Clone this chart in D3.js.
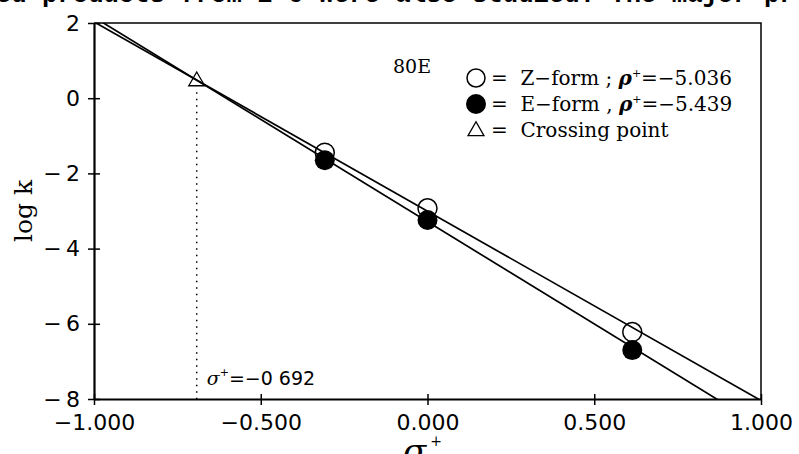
<!doctype html>
<html>
<head>
<meta charset="utf-8">
<script src="https://d3js.org/d3.v7.min.js"></script>
<style>
  body { margin: 0; background: #fff; }
  svg { display: block; }
  .tick text { font-family: "DejaVu Sans", sans-serif; }
</style>
</head>
<body>
<svg width="799" height="454"></svg>
<script>
// data
var sigmaZ = [-0.308, 0.000, 0.614];
var logkZ = [-1.45, -2.93, -6.22];
var sigmaE = [-0.308, 0.000, 0.614];
var logkE = [-1.65, -3.24, -6.70];
// fitted lines: slope (rho+) and log k at sigma+ = 0
var rho = [-5.036, -5.439];
var intercept = [-3.005, -3.284];
var crossX = -0.692, crossY = 0.48;
var xTicks = [-1, -0.5, 0, 0.5, 1];
var yTicks = [2, 0, -2, -4, -6, -8];

function draw() {
    var svg = d3.select("svg");
    var pl = 94, pr = 761, pt = 23, pb = 399;

    var x = d3.scaleLinear().domain([-1, 1]).range([pl, pr]);
    var y = d3.scaleLinear().domain([-8, 2]).range([pb, pt]);

    // stray line of text from the page above
    svg.append("text")
       .attr("x", -4).attr("y", 2)
       .attr("font-family", "Liberation Mono, monospace")
       .attr("font-weight", "bold")
       .attr("font-size", "25.6px")
       .text("ed products from 1-6 were also studied. The major pr");

    svg.append("defs").append("clipPath").attr("id", "plot")
       .append("rect")
       .attr("x", pl).attr("y", pt)
       .attr("width", pr - pl).attr("height", pb - pt);

    // frame
    svg.append("path")
       .attr("d", "M" + pl + "," + pt + "H" + pr + "V" + pb)
       .attr("fill", "none").attr("stroke", "#000").attr("stroke-width", 1.5);

    var xAxis = svg.append("g")
       .attr("transform", "translate(0," + pb + ")")
       .call(d3.axisBottom(x).tickValues(xTicks).tickSize(0).tickPadding(15)
             .tickFormat(function(d) { return d3.format(".3f")(d).replace("-", "\u2212"); }));
    xAxis.select(".domain").attr("stroke-width", 2.2);
    xAxis.selectAll(".tick text").attr("font-size", "22px").attr("fill", "#000");
    xAxis.selectAll(".tick").append("line")
       .attr("y1", -5).attr("y2", 6).attr("stroke", "#000").attr("stroke-width", 1.5);

    var yAxis = svg.append("g")
       .attr("transform", "translate(" + pl + ",0)")
       .call(d3.axisLeft(y).tickValues(yTicks).tickSize(0).tickPadding(14)
             .tickFormat(function(d) { return d < 0 ? "\u2212\u2009" + (-d) : "" + d; }));
    yAxis.select(".domain").attr("stroke-width", 2.2);
    yAxis.selectAll(".tick text").attr("font-size", "22px").attr("fill", "#000");
    yAxis.selectAll(".tick").append("line")
       .attr("x1", -6).attr("x2", 6).attr("stroke", "#000").attr("stroke-width", 1.5);

    // axis titles
    svg.append("text")
       .attr("transform", "translate(32," + y(-3) + ") rotate(-90)")
       .attr("text-anchor", "middle")
       .attr("font-family", "DejaVu Serif, serif")
       .attr("font-size", "25px")
       .text("log k");

    var xt = svg.append("text")
       .attr("x", 403).attr("y", 463)
       .attr("font-family", "DejaVu Serif, serif");
    xt.append("tspan").attr("font-style", "italic").attr("font-size", "34px").text("\u03c3");
    xt.append("tspan").attr("dx", 4).attr("dy", -17).attr("font-size", "14px").text("+");

    // fit lines
    var g = svg.append("g").attr("clip-path", "url(#plot)");
    rho.forEach(function(r, i) {
        g.append("line")
         .attr("x1", x(-1)).attr("y1", y(intercept[i] + r * -1))
         .attr("x2", x(1)).attr("y2", y(intercept[i] + r * 1))
         .attr("stroke", "#000").attr("stroke-width", 1.7);
    });

    // crossing point drop line
    svg.append("line")
       .attr("x1", x(crossX)).attr("x2", x(crossX))
       .attr("y1", y(crossY) + 12).attr("y2", pb)
       .attr("stroke", "#000").attr("stroke-width", 1.5)
       .attr("stroke-dasharray", "1.5,5");

    var tri = d3.symbol().type(d3.symbolTriangle).size(110);
    svg.append("path")
       .attr("d", tri())
       .attr("transform", "translate(" + x(crossX) + "," + (y(crossY) + 1) + ")")
       .attr("fill", "none").attr("stroke", "#000").attr("stroke-width", 1.3);

    var cl = svg.append("text")
       .attr("x", x(crossX) + 10).attr("y", 385)
       .attr("font-family", "DejaVu Sans, sans-serif")
       .attr("font-size", "19px");
    cl.append("tspan").attr("font-style", "italic").attr("font-family", "DejaVu Serif, serif").text("\u03c3");
    cl.append("tspan").attr("dy", -9).attr("font-size", "11px").text("+");
    cl.append("tspan").attr("dy", 9).text("=\u2212" + "0 692");

    // points
    svg.selectAll(".z").data(sigmaZ).enter().append("circle")
       .attr("class", "z")
       .attr("cx", function(d) { return x(d); })
       .attr("cy", function(d, i) { return y(logkZ[i]); })
       .attr("r", 9.5)
       .attr("fill", "none").attr("stroke", "#000").attr("stroke-width", 1.5);

    svg.selectAll(".e").data(sigmaE).enter().append("circle")
       .attr("class", "e")
       .attr("cx", function(d) { return x(d); })
       .attr("cy", function(d, i) { return y(logkE[i]); })
       .attr("r", 10)
       .attr("fill", "#000");

    // legend
    svg.append("text")
       .attr("x", 393).attr("y", 73)
       .attr("font-family", "DejaVu Serif, serif")
       .attr("font-size", "19px")
       .text("80E");

    var legY = [78, 104, 130];
    svg.append("circle").attr("cx", 476).attr("cy", legY[0]).attr("r", 9)
       .attr("fill", "none").attr("stroke", "#000").attr("stroke-width", 1.5);
    svg.append("circle").attr("cx", 476).attr("cy", legY[1]).attr("r", 10).attr("fill", "#000");
    svg.append("path").attr("d", tri())
       .attr("transform", "translate(476," + (legY[2] + 1) + ")")
       .attr("fill", "none").attr("stroke", "#000").attr("stroke-width", 1.3);

    function legendText(row, name, sep, val) {
        var t = svg.append("text")
           .attr("x", 491).attr("y", legY[row] + 7)
           .attr("font-family", "DejaVu Serif, serif")
           .attr("font-size", "20px");
        t.append("tspan").text("=\u00a0 " + name);
        if (val) {
            t.append("tspan").text(sep);
            t.append("tspan").attr("font-style", "italic").attr("font-weight", "bold").text("\u03c1");
            t.append("tspan").attr("dy", -8).attr("font-size", "11px").text("+");
            t.append("tspan").attr("dy", 8).text("=\u2212" + val);
        }
    }
    legendText(0, "Z\u2212form", " ; ", "5.036");
    legendText(1, "E\u2212form", " , ", "5.439");
    legendText(2, "Crossing point");
}

draw();
</script>
</body>
</html>
